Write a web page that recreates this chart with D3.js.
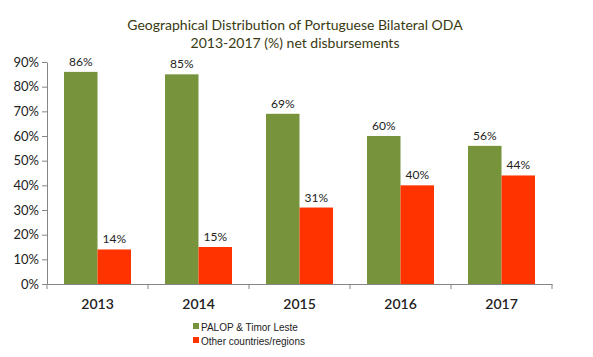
<!DOCTYPE html>
<html><head><meta charset="utf-8">
<script src="https://cdn.jsdelivr.net/npm/d3@7"></script>
<style>body{margin:0;background:#fff}svg{display:block}</style>
</head><body>
<svg id="c" width="593" height="357"></svg>
<script>
const years = ["2013","2014","2015","2016","2017"];
const palop = [86,85,69,60,56];
const other = [14,15,31,40,44];
const seriesNames = ["PALOP & Timor Leste","Other countries/regions"];
const seriesColors = ["#77933C","#FF3300"];
const yTicks = [0,10,20,30,40,50,60,70,80,90];
const titleLines = ["Geographical Distribution of Portuguese Bilateral ODA","2013-2017 (%) net disbursements"];

const svg = d3.select("#c");
const x = d3.scaleBand().domain(years).range([47,552]).paddingInner(0).paddingOuter(0);
const y = d3.scaleLinear().domain([0,90]).range([284,62]);
const inner = d3.scaleBand().domain([0,1]).range([17,x.bandwidth()-17]);

svg.selectAll("text.title").data(titleLines).enter().append("text")
  .attr("x",295).attr("y",(d,i)=>30+i*17.5).attr("text-anchor","middle")
  .attr("font-family","Lato, 'Open Sans', sans-serif").attr("font-size",14)
  .attr("fill","#3a3a12").text(d=>d);

const yAxis = svg.append("g").attr("transform","translate(47,0)")
  .call(d3.axisLeft(y).tickValues(yTicks).tickFormat(d=>d+"%").tickSize(5).tickSizeOuter(0));
yAxis.select(".domain").attr("stroke","#868686");
yAxis.selectAll(".tick line").attr("stroke","#868686");
yAxis.selectAll(".tick text").attr("font-family","Lato, 'Open Sans', sans-serif").attr("font-size",13).attr("fill","#222").attr("x",-8);

const data = [palop, other];
data.forEach((vals,s)=>{
  svg.selectAll("rect.s"+s).data(years).enter().append("rect")
    .attr("x",d=>x(d)+inner(s)).attr("width",inner.bandwidth())
    .attr("y",(d,i)=>y(vals[i])).attr("height",(d,i)=>y(0)-y(vals[i]))
    .attr("fill",seriesColors[s]);
  svg.selectAll("text.l"+s).data(years).enter().append("text")
    .attr("x",d=>x(d)+inner(s)+inner.bandwidth()/2)
    .attr("y",(d,i)=>y(vals[i])-6).attr("text-anchor","middle")
    .attr("font-family","Lato, 'Open Sans', sans-serif").attr("font-size",12).attr("fill","#222")
    .text((d,i)=>vals[i]+"%");
});

const xAxis = svg.append("g").attr("transform","translate(0,284)")
  .call(d3.axisBottom(x).tickSize(0).tickSizeOuter(0));
xAxis.select(".domain").attr("stroke","#868686");
xAxis.selectAll(".tick text").attr("font-family","Lato, 'Open Sans', sans-serif").attr("font-size",14).attr("font-weight","600").attr("fill","#222").attr("dy","1.6em");
const bounds = years.map(d=>x(d)).concat([x.range()[1]]);
svg.selectAll("line.xt").data(bounds).enter().append("line")
  .attr("x1",d=>d).attr("x2",d=>d).attr("y1",284).attr("y2",289).attr("stroke","#868686");

const leg = svg.selectAll("g.leg").data(seriesNames).enter().append("g")
  .attr("transform",(d,i)=>`translate(193,${327+i*14})`);
leg.append("rect").attr("x",0).attr("y",-4).attr("width",6).attr("height",6).attr("fill",(d,i)=>seriesColors[i]);
leg.append("text").attr("x",8).attr("y",0).attr("dy","0.35em")
  .attr("font-family","'Liberation Sans', Arial, sans-serif").attr("font-size",10).attr("fill","#222").text(d=>d);
</script>
</body></html>
